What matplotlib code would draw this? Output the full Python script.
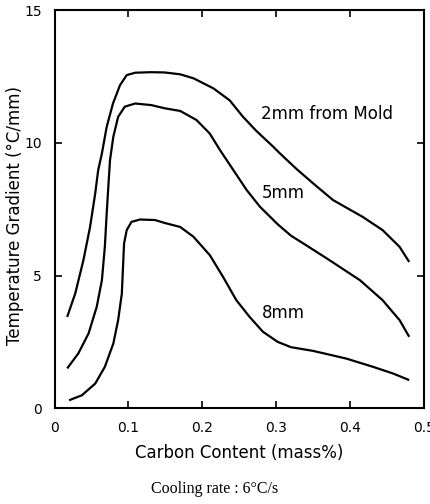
import numpy as np
import matplotlib.pyplot as plt

# curves (carbon mass%, gradient degC/mm)
c_2mm = [0.017, 0.028, 0.039, 0.048, 0.055, 0.059, 0.064, 0.0705, 0.079, 0.0885, 0.0976, 0.109,
         0.130, 0.149, 0.170, 0.188, 0.215, 0.237, 0.255, 0.273, 0.296, 0.305, 0.328, 0.350, 0.377,
         0.417, 0.444, 0.467, 0.480]
g_2mm = [3.44, 4.33, 5.58, 6.83, 8.1, 8.97, 9.6, 10.6, 11.48, 12.17, 12.55, 12.64,
         12.66, 12.65, 12.58, 12.43, 12.05, 11.6, 10.98, 10.45, 9.85, 9.6, 9.0, 8.47, 7.84,
         7.21, 6.71, 6.08, 5.51]

c_5mm = [0.017, 0.032, 0.046, 0.057, 0.064, 0.068, 0.0705, 0.0727, 0.075, 0.0795, 0.086, 0.095,
         0.109, 0.131, 0.149, 0.170, 0.192, 0.210, 0.224, 0.242, 0.260, 0.278, 0.302, 0.320, 0.340,
         0.372, 0.4135, 0.444, 0.467, 0.480]
g_5mm = [1.5, 2.06, 2.82, 3.82, 4.82, 6.08, 7.34, 8.34, 9.35, 10.23, 10.98, 11.36,
         11.48, 11.42, 11.3, 11.2, 10.86, 10.35, 9.72, 8.97, 8.22, 7.59, 6.93, 6.5, 6.15,
         5.58, 4.82, 4.07, 3.32, 2.69]

c_8mm = [0.0196, 0.037, 0.055, 0.068, 0.0795, 0.086, 0.091, 0.093, 0.094, 0.0976, 0.104, 0.1155,
         0.136, 0.149, 0.170, 0.188, 0.210, 0.228, 0.246, 0.264, 0.282, 0.302, 0.320, 0.350,
         0.395, 0.431, 0.458, 0.480]
g_8mm = [0.3, 0.49, 0.93, 1.56, 2.44, 3.32, 4.32, 5.58, 6.2, 6.71, 7.02, 7.11,
         7.09, 6.98, 6.83, 6.46, 5.77, 4.95, 4.07, 3.44, 2.88, 2.5, 2.3, 2.16,
         1.87, 1.56, 1.31, 1.06]

x_ticks = [0, 0.1, 0.2, 0.3, 0.4, 0.5]
x_labels = ['0', '0.1', '0.2', '0.3', '0.4', '0.5']
y_ticks = [0, 5, 10, 15]

fig = plt.figure(figsize=(4.3, 5.04), dpi=100)
ax = fig.add_axes([0.127, 0.19, 0.859, 0.79])

for c, g in [(c_2mm, g_2mm), (c_5mm, g_5mm), (c_8mm, g_8mm)]:
    ax.plot(c, g, color='black', lw=1.6, solid_capstyle='butt', solid_joinstyle='round')

ax.text(0.28, 11.1, '2mm from Mold', fontsize=12, va='center')
ax.text(0.28, 8.1, '5mm', fontsize=12, va='center')
ax.text(0.28, 3.57, '8mm', fontsize=12, va='center')

ax.set_xlim(0, 0.5)
ax.set_ylim(0, 15)
ax.set_xticks(x_ticks)
ax.set_xticklabels(x_labels)
ax.set_yticks(y_ticks)
ax.tick_params(direction='in', top=True, right=True, length=5, width=1.2, labelsize=10, pad=9)
for s in ax.spines.values():
    s.set_linewidth(1.5)

ax.set_xlabel('Carbon Content (mass%)', fontsize=12)
ax.xaxis.set_label_coords(0.5, -0.09)
ax.set_ylabel('Temperature Gradient (°C/mm)', fontsize=12)
ax.yaxis.set_label_coords(-0.082, 0.485)

fig.text(0.5, 0.03, 'Cooling rate : 6°C/s', ha='center', va='center',
         fontsize=11.5, family='Liberation Serif')

fig.savefig('out.png', dpi=100)
